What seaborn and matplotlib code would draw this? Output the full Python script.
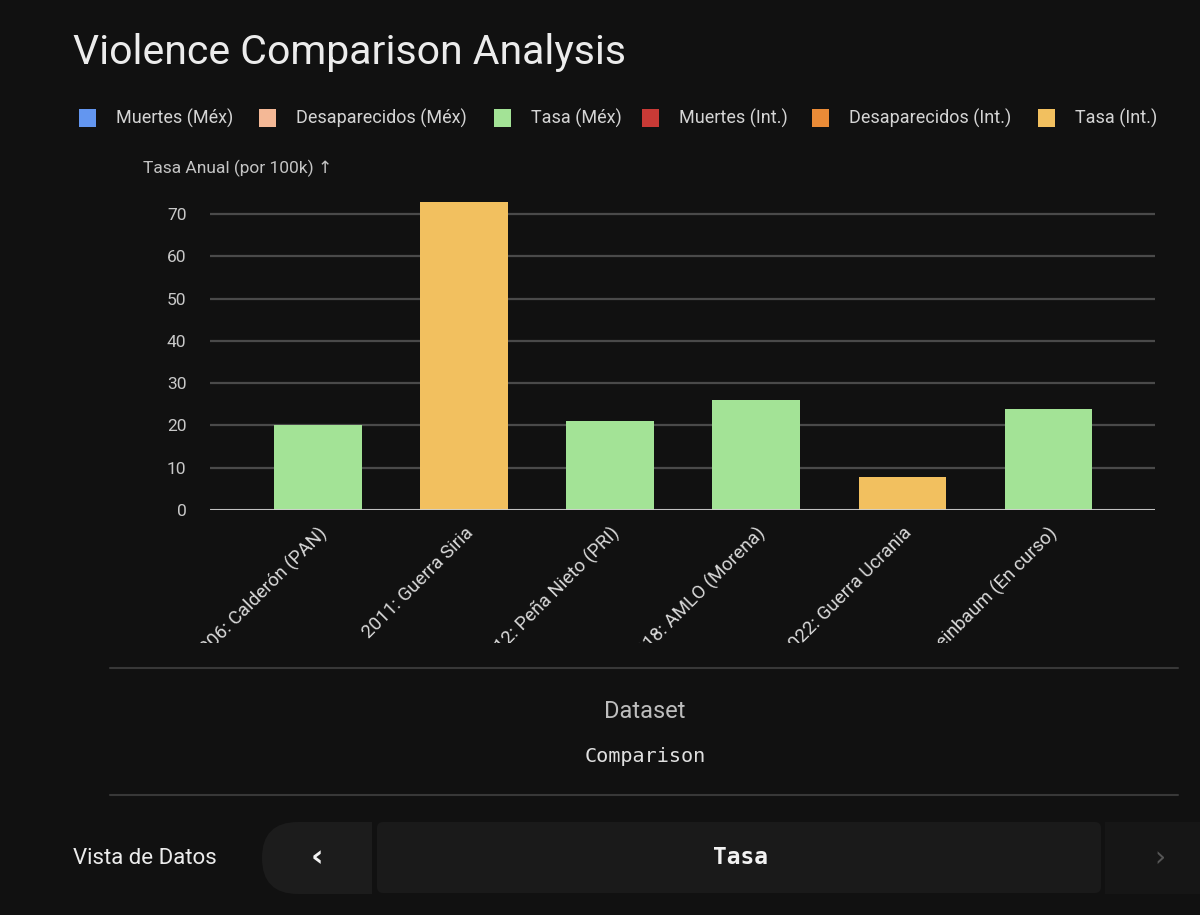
import matplotlib
matplotlib.use("Agg")
import matplotlib.pyplot as plt
from matplotlib.patches import Rectangle, FancyBboxPatch
from matplotlib.transforms import Bbox
import numpy as np
import pandas as pd
import seaborn as sns

# data
periodos = ["2006: Calderón (PAN)", "2011: Guerra Siria", "2012: Peña Nieto (PRI)",
            "2018: AMLO (Morena)", "2022: Guerra Ucrania", "2024: Sheinbaum (En curso)"]
tasa = [20, 72.8, 21, 26, 7.8, 24]
serie = ["Tasa (Méx)", "Tasa (Int.)", "Tasa (Méx)", "Tasa (Méx)", "Tasa (Int.)", "Tasa (Méx)"]

leyenda = ["Muertes (Méx)", "Desaparecidos (Méx)", "Tasa (Méx)",
           "Muertes (Int.)", "Desaparecidos (Int.)", "Tasa (Int.)"]
colores = ["#6396f0", "#f4b896", "#a3e396", "#c93a36", "#ea8b37", "#f2c05f"]
ley_x = [79, 259, 494, 642, 812, 1038]  # legend square positions (px)

yticks = [0, 10, 20, 30, 40, 50, 60, 70]

BG = "#111111"

sns.set_theme(style="dark")
plt.rcParams['font.family'] = ['Roboto', 'DejaVu Sans']

df = pd.DataFrame({"periodo": periodos, "tasa": tasa, "serie": serie})
paleta = dict(zip(leyenda, colores))

fig = plt.figure(figsize=(12, 9.15), dpi=100, facecolor=BG)

# overlay in pixel coords for the page elements
ui = fig.add_axes([0, 0, 1, 1], zorder=-1)
ui.set_xlim(0, 1200)
ui.set_ylim(915, 0)
ui.axis("off")
ui.set_facecolor(BG)

ui.text(73, 52, "Violence Comparison Analysis", fontsize=29.5, color="#ececec",
        va="center", ha="left")

for name, col, x in zip(leyenda, colores, ley_x):
    ui.add_patch(Rectangle((x, 109), 17, 18, color=col, lw=0))
    ui.text(x + 37, 118.5, name, fontsize=13, color="#d4d4d4", va="center", ha="left")

ui.text(143, 168, "Tasa Anual (por 100k) ↑", fontsize=12.5, color="#c4c4c4",
        va="center", ha="left")

# bottom panel
ui.plot([110, 1178], [668, 668], color="#383838", lw=1.5)
ui.plot([110, 1178], [795, 795], color="#383838", lw=1.5)
ui.text(645, 711, "Dataset", fontsize=17, color="#bdbdbd", ha="center", va="center")
ui.text(645, 757, "Comparison", fontsize=14.5, color="#e0e0e0", ha="center", va="center",
        family="DejaVu Sans Mono")
ui.text(73, 858, "Vista de Datos", fontsize=16, color="#ececec", ha="left", va="center")

ui.add_patch(FancyBboxPatch((262, 822), 110, 72, boxstyle="round,pad=0,rounding_size=36",
                            color="#1c1c1c", lw=0))
ui.add_patch(Rectangle((320, 822), 52, 72, color="#1c1c1c", lw=0))
ui.add_patch(FancyBboxPatch((377, 822), 724, 71, boxstyle="round,pad=0,rounding_size=6",
                            color="#1a1a1a", lw=0))
ui.add_patch(Rectangle((1105, 822), 95, 72, color="#161616", lw=0))
ui.text(317, 858, "‹", fontsize=22, color="#f2f2f2", ha="center", va="center",
        fontweight="bold", family="DejaVu Sans")
ui.text(1160, 858, "›", fontsize=20, color="#555555", ha="center", va="center",
        family="DejaVu Sans")
ui.text(740, 858, "Tasa", fontsize=16.5, color="#f2f2f2", ha="center", va="center",
        fontweight="bold", family="DejaVu Sans Mono")

# chart
ax = fig.add_axes([0.175, 1 - 510 / 915, 0.7875, 318 / 915])
ax.set_facecolor("none")
sns.barplot(data=df, x="periodo", y="tasa", hue="serie", palette=paleta, dodge=False,
            width=0.6, legend=False, ax=ax, edgecolor="none", saturation=1)
ax.set_xlim(-0.74, 5.73)
ax.set_ylim(0, 75.2)
ax.set_yticks(yticks)
ax.yaxis.grid(True, color="#4a4a4a", lw=1.6)
ax.xaxis.grid(False)
ax.set_axisbelow(True)
ax.axhline(0, color="#d0d0d0", lw=2, zorder=3)
for s in ax.spines.values():
    s.set_visible(False)
ax.set_xlabel("")
ax.set_ylabel("")
ax.tick_params(axis="both", length=0, colors="#c8c8c8")
ax.tick_params(axis="y", labelsize=12.5, pad=17)
ax.tick_params(axis="x", labelsize=13.5, pad=10, labelcolor="#dadada")

clip = Bbox([[0, 915 - 643], [1200, 915]])
for lab in ax.get_xticklabels():
    lab.set_rotation(45)
    lab.set_ha("right")
    lab.set_va("top")
    lab.set_rotation_mode("anchor")
    lab.set_clip_on(True)
    lab.set_clip_box(clip)

fig.savefig("out.png", dpi=100, facecolor=BG)
